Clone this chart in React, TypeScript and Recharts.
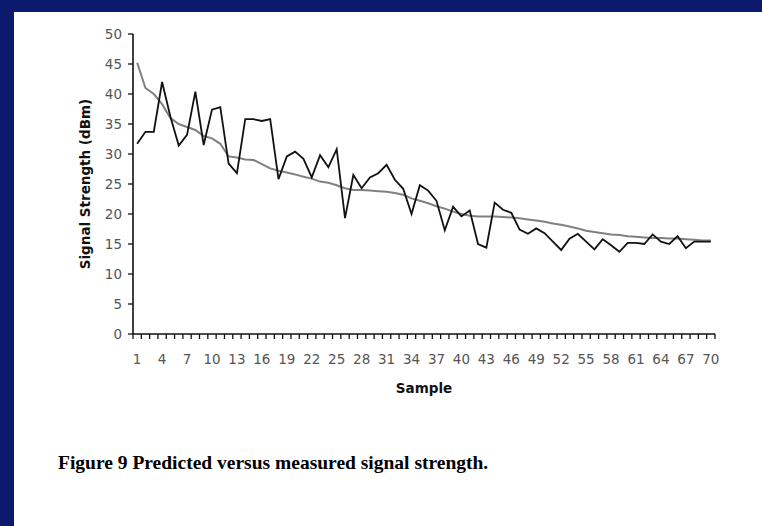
import React from 'react';
import { LineChart, Line, XAxis, YAxis } from 'recharts';

const measured = [
  31.7, 33.7, 33.7, 42.0, 36.2, 31.4, 33.2, 40.4, 31.5, 37.4,
  37.8, 28.4, 26.8, 35.8, 35.8, 35.5, 35.8, 25.8, 29.6, 30.4,
  29.2, 26.1, 29.8, 27.8, 30.8, 19.3, 26.5, 24.3, 26.1, 26.8,
  28.2, 25.7, 24.2, 20.0, 24.8, 23.9, 22.2, 17.3, 21.2, 19.6,
  20.6, 15.0, 14.4, 21.9, 20.7, 20.2, 17.4, 16.7, 17.6, 16.8,
  15.4, 14.0, 15.9, 16.7, 15.4, 14.1, 15.8, 14.8, 13.7, 15.2,
  15.2, 15.0, 16.6, 15.4, 15.0, 16.3, 14.3, 15.4, 15.4, 15.4,
];

const predicted = [
  45.2, 41.0, 40.0, 38.3, 36.0, 35.0, 34.5, 34.0, 33.0, 32.6,
  31.7, 29.6, 29.4, 29.1, 29.0, 28.3, 27.6, 27.2, 26.9, 26.6,
  26.2, 25.9, 25.4, 25.2, 24.8, 24.3, 24.0, 24.0, 23.9, 23.8,
  23.7, 23.5, 23.2, 22.6, 22.2, 21.8, 21.3, 20.9, 20.4, 20.0,
  19.7, 19.6, 19.6, 19.6, 19.5, 19.4, 19.3, 19.1, 18.9, 18.7,
  18.4, 18.2, 17.9, 17.6, 17.2, 17.0, 16.8, 16.6, 16.5, 16.3,
  16.2, 16.1, 16.0, 16.0, 15.9, 15.9, 15.8, 15.7, 15.6, 15.6,
];

const xTickLabels = [1, 4, 7, 10, 13, 16, 19, 22, 25, 28, 31, 34, 37, 40, 43, 46, 49, 52, 55, 58, 61, 64, 67, 70];
const yTicks = [0, 5, 10, 15, 20, 25, 30, 35, 40, 45, 50];

const data = measured.map((m, i) => ({ sample: i + 1, measured: m, predicted: predicted[i] }));
const boundaryTicks = measured.map((_, i) => i + 0.5).concat([measured.length + 0.5]);

const tickFont = { fontFamily: 'DejaVu Sans', fontSize: 13.5, fill: '#555' };

export default function App() {
  return (
    <div style={{ position: 'fixed', left: 0, top: 0, width: 762, height: 526, background: '#0b1a6c', overflow: 'hidden' }}>
      <div style={{ position: 'absolute', left: 14, top: 12, right: 0, bottom: 0, background: '#ffffff' }} />
      <div style={{ position: 'absolute', left: 0, top: 0 }}>
        <LineChart width={762} height={526} data={data} margin={{ top: 34, right: 47, bottom: 152, left: 83 }}>
          <XAxis
            xAxisId="b"
            dataKey="sample"
            type="number"
            domain={[0.5, 70.5]}
            ticks={xTickLabels}
            interval={0}
            height={20}
            axisLine={false}
            tickLine={false}
            tickSize={0}
            tickMargin={0}
            tick={tickFont}
          />
          <XAxis
            xAxisId="a"
            dataKey="sample"
            type="number"
            domain={[0.5, 70.5]}
            ticks={boundaryTicks}
            interval={0}
            tickFormatter={() => ''}
            tick={{ fontSize: 1 }}
            tickSize={5}
            height={20}
            axisLine={{ stroke: '#111', strokeWidth: 1.6 }}
            tickLine={{ stroke: '#111', strokeWidth: 1.3 }}
          />
          <YAxis
            domain={[0, 50]}
            ticks={yTicks}
            interval={0}
            width={50}
            tickSize={5}
            tickMargin={6}
            axisLine={{ stroke: '#111', strokeWidth: 1.6 }}
            tickLine={{ stroke: '#111', strokeWidth: 1.3 }}
            tick={tickFont}
          />
          <Line
            xAxisId="b"
            type="linear"
            dataKey="predicted"
            stroke="#808080"
            strokeWidth={2}
            dot={false}
            isAnimationActive={false}
          />
          <Line
            xAxisId="b"
            type="linear"
            dataKey="measured"
            stroke="#111"
            strokeWidth={1.8}
            dot={false}
            isAnimationActive={false}
          />
        </LineChart>
      </div>
      <div style={{ position: 'absolute', left: 85, top: 184, width: 0, height: 0 }}>
        <div style={{ position: 'absolute', left: 0, top: 0, transform: 'translate(-50%, -50%) rotate(-90deg)', whiteSpace: 'nowrap', fontFamily: 'DejaVu Sans', fontWeight: 'bold', fontSize: 13.5, color: '#111' }}>
          Signal Strength (dBm)
        </div>
      </div>
      <div style={{ position: 'absolute', left: 424, top: 388, transform: 'translate(-50%, -50%)', whiteSpace: 'nowrap', fontFamily: 'DejaVu Sans', fontWeight: 'bold', fontSize: 13.5, color: '#111' }}>
        Sample
      </div>
      <div style={{ position: 'absolute', left: 58, top: 452, whiteSpace: 'nowrap', fontFamily: '"Liberation Serif", "Times New Roman", serif', fontWeight: 'bold', fontSize: 19.5, color: '#000' }}>
        Figure 9 Predicted versus measured signal strength.
      </div>
    </div>
  );
}
